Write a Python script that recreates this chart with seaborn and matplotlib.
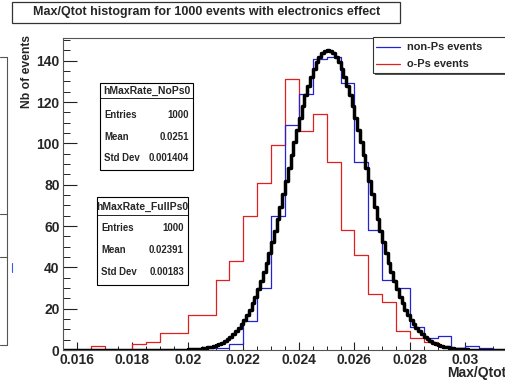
import numpy as np
import pandas as pd
import matplotlib
matplotlib.use("Agg")
import matplotlib.pyplot as plt
import seaborn as sns
from matplotlib.patches import Rectangle
from matplotlib.lines import Line2D
from matplotlib.ticker import FixedLocator, FixedFormatter, MultipleLocator

# ---------------- data ----------------
hist_lo, hist_hi = 0.0155, 0.0315          # histogram range (0.0005 bins)
nonps_counts = [0, 0, 0, 0, 0, 0, 0, 0, 0, 0,
                1, 1, 3, 14, 30, 65, 109, 124, 141, 142,
                129, 91, 58, 34, 30, 11, 6, 7, 1, 2, 1, 0]
ops_counts = [0, 0, 2, 0, 0, 3, 4, 8, 8, 17,
              17, 34, 43, 65, 81, 99, 131, 106, 114, 91,
              58, 46, 27, 23, 9, 6, 4, 2, 1, 0, 0, 0]

fine_lo, fine_hi = 0.0195, 0.0305          # fine reference curve (0.0001 bins)
expected_counts = [
    0.1, 0.1, 0.1, 0.2, 0.2, 0.3, 0.3, 0.4, 0.5, 0.7, 0.8, 1.0, 1.3, 1.6, 2.0,
    2.4, 3.0, 3.6, 4.4, 5.3, 6.4, 7.6, 9.0, 10.6, 12.5, 14.6, 17.0, 19.6, 22.6,
    25.8, 29.4, 33.4, 37.6, 42.2, 47.1, 52.3, 57.8, 63.5, 69.4, 75.5, 81.7, 87.9,
    94.3, 100.5, 106.5, 112.4, 118.0, 123.2, 128.0, 132.3, 136.0, 139.2, 141.7,
    143.5, 144.6, 145.0,
    144.6, 143.5, 141.7, 139.2, 136.0, 132.3, 128.0, 123.2, 118.0, 112.4, 106.5,
    100.5, 94.3, 87.9, 81.7, 75.5, 69.4, 63.5, 57.8, 52.3, 47.1, 42.2, 37.6, 33.4,
    29.4, 25.8, 22.6, 19.6, 17.0, 14.6, 12.5, 10.6, 9.0, 7.6, 6.4, 5.3, 4.4, 3.6,
    3.0, 2.4, 2.0, 1.6, 1.3, 1.0, 0.8, 0.7, 0.5, 0.4, 0.3, 0.3, 0.2, 0.2, 0.1, 0.1]

x_ticks = [0.016, 0.018, 0.020, 0.022, 0.024, 0.026, 0.028, 0.030]
x_tick_labels = ["0.016", "0.018", "0.02", "0.022", "0.024", "0.026", "0.028", "0.03"]
y_ticks = [0, 20, 40, 60, 80, 100, 120, 140]

series_names = ["non-Ps events", "o-Ps events"]
series_colors = ["#2323d0", "#e02020"]

stats_nops_title = "hMaxRate_NoPs0"
stats_nops = [("Entries", "1000"), ("Mean", "0.0251"), ("Std Dev", "0.001404")]
stats_ops_title = "hMaxRate_FullPs0"
stats_ops = [("Entries", "1000"), ("Mean", "0.02391"), ("Std Dev", "0.00183")]

title = "Max/Qtot histogram for 1000 events with electronics effect"
xlabel = "Max/Qtot"
ylabel = "Nb of events"

# ---------------- style ----------------
sns.set_theme(style="white")
plt.rcParams["font.family"] = ["Liberation Sans", "DejaVu Sans"]
plt.rcParams["font.weight"] = "bold"

W, H = 506, 381
fig = plt.figure(figsize=(W / 100, H / 100), dpi=100)
fig.patch.set_facecolor("white")


def fx(x):
    return x / W


def fy(y):
    return 1 - y / H


ax = fig.add_axes([fx(63), fy(350), (507 - 63) / W, (350 - 38) / H])
ax.set_facecolor("white")


def step_frame(lo, hi, counts):
    edges = np.linspace(lo, hi, len(counts) + 1)
    vals = np.append(np.asarray(counts, dtype=float), counts[-1])
    return pd.DataFrame({"edge": edges, "count": vals})


# coarse histograms
df_ops = step_frame(hist_lo, hist_hi, ops_counts)
df_nops = step_frame(hist_lo, hist_hi, nonps_counts)
sns.lineplot(data=df_ops, x="edge", y="count", drawstyle="steps-post", estimator=None,
             color=series_colors[1], linewidth=0.9, ax=ax)
sns.lineplot(data=df_nops, x="edge", y="count", drawstyle="steps-post", estimator=None,
             color=series_colors[0], linewidth=0.9, ax=ax)

# fine expected curve (padded with empty bins over the full range)
n_pre = int(round((fine_lo - hist_lo) / 0.0001))
n_post = int(round((hist_hi - fine_hi) / 0.0001))
fine_vals = list(np.concatenate([np.zeros(n_pre), expected_counts, np.zeros(n_post)]))
df_fine = step_frame(hist_lo, hist_hi, fine_vals)
sns.lineplot(data=df_fine, x="edge", y="count", drawstyle="steps-post", estimator=None,
             color="black", linewidth=2.5, ax=ax)

ax.set_xlim(hist_lo, hist_hi)
ax.set_ylim(0, 151)
ax.set_xlabel("")
ax.set_ylabel("")

ax.xaxis.set_major_locator(FixedLocator(x_ticks))
ax.xaxis.set_major_formatter(FixedFormatter(x_tick_labels))
ax.xaxis.set_minor_locator(MultipleLocator(0.0005))
ax.yaxis.set_major_locator(FixedLocator(y_ticks))
ax.yaxis.set_minor_locator(MultipleLocator(5))
ax.tick_params(axis="x", which="major", direction="in", length=6, width=0.8,
               pad=2, labelsize=10, color="#222222", bottom=True)
ax.tick_params(axis="x", which="minor", direction="in", length=3, width=0.7,
               color="#222222", bottom=True)
ax.tick_params(axis="y", which="major", direction="in", length=10, width=0.8,
               pad=2.5, labelsize=10, color="#222222", left=True)
ax.tick_params(axis="y", which="minor", direction="in", length=5, width=0.7,
               color="#222222", left=True)
for lab in ax.get_xticklabels() + ax.get_yticklabels():
    lab.set_fontweight("bold")
for sp in ax.spines.values():
    sp.set_color("#555555")
    sp.set_linewidth(0.8)

# axis titles
fig.text(fx(506), fy(373), xlabel, ha="right", va="center", fontsize=10, fontweight="bold")
fig.text(fx(27), fy(72), ylabel, ha="center", va="center", rotation=90,
         fontsize=8.7, fontweight="bold")

# title box
fig.add_artist(Rectangle((fx(12), fy(23)), fx(400) - fx(12), fy(2) - fy(23),
                         transform=fig.transFigure, facecolor="white",
                         edgecolor="#333333", linewidth=0.9))
fig.text(fx(207), fy(12.5), title, ha="center", va="center", fontsize=9, fontweight="bold")


def stats_box(x0, x1, y0, y1, yhead, header, rows, row_ys):
    fig.add_artist(Rectangle((fx(x0), fy(y1)), fx(x1) - fx(x0), fy(y0) - fy(y1),
                             transform=fig.transFigure, facecolor="white",
                             edgecolor="black", linewidth=0.8, zorder=5))
    fig.add_artist(Line2D([fx(x0), fx(x1)], [fy(yhead), fy(yhead)],
                          transform=fig.transFigure, color="black", linewidth=0.6, zorder=6))
    fig.text(fx((x0 + x1) / 2), fy((y0 + yhead) / 2 + 0.5), header, ha="center",
             va="center", fontsize=7.5, fontweight="bold", zorder=7)
    for (lab, val), yy in zip(rows, row_ys):
        fig.text(fx(x0 + 4), fy(yy), lab, ha="left", va="center", fontsize=6.9,
                 fontweight="bold", zorder=7)
        fig.text(fx(x1 - 4), fy(yy), val, ha="right", va="center", fontsize=6.9,
                 fontweight="bold", zorder=7)


stats_box(100, 193, 83, 170, 98, stats_nops_title, stats_nops, [115, 137, 158])
stats_box(97, 188, 197, 285, 215, stats_ops_title, stats_ops, [228, 250, 272])

# legend (box extends beyond the right edge like the reference)
fig.add_artist(Rectangle((fx(375), fy(75)), fx(540) - fx(375), fy(39) - fy(75),
                         transform=fig.transFigure, facecolor="#555555",
                         edgecolor="none", zorder=5))
fig.add_artist(Rectangle((fx(373), fy(73)), fx(540) - fx(373), fy(37) - fy(73),
                         transform=fig.transFigure, facecolor="white",
                         edgecolor="#333333", linewidth=0.8, zorder=6))
for name, col, yy in zip(series_names, series_colors, [47, 64]):
    fig.add_artist(Line2D([fx(376), fx(400)], [fy(yy), fy(yy)], transform=fig.transFigure,
                          color=col, linewidth=0.9, zorder=7))
    fig.text(fx(407), fy(yy), name, ha="left", va="center", fontsize=7.9,
             fontweight="bold", zorder=8)

# fragments of a neighbouring pad on the left edge
fig.add_artist(Line2D([fx(7.5), fx(7.5)], [fy(57), fy(345)], transform=fig.transFigure,
                      color="#555555", linewidth=0.8))
for yy in [57, 214, 257, 345]:
    fig.add_artist(Line2D([0, fx(7.5)], [fy(yy), fy(yy)], transform=fig.transFigure,
                          color="#555555", linewidth=0.8))
fig.add_artist(Line2D([fx(12), fx(12)], [fy(263), fy(272)], transform=fig.transFigure,
                      color="#3060e0", linewidth=0.8))

fig.savefig("out.png", dpi=100, facecolor="white")
